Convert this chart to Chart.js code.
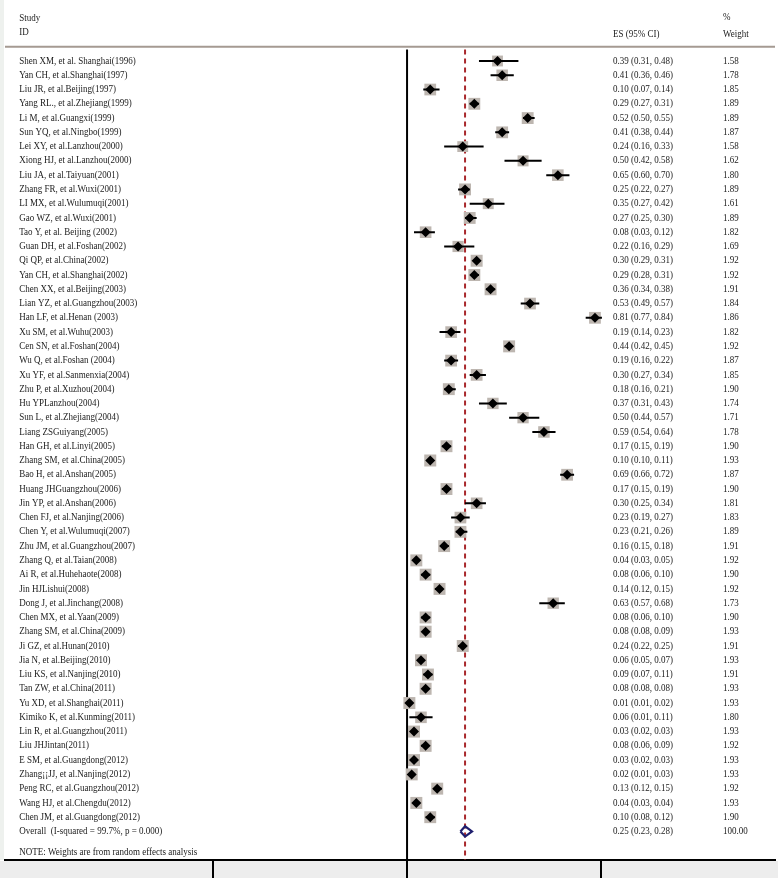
<!DOCTYPE html>
<html>
<head>
<meta charset="utf-8">
<title>Forest plot</title>
<script src="https://cdn.jsdelivr.net/npm/chart.js@4.4.1/dist/chart.umd.min.js"></script>
<style>
  html, body { margin: 0; padding: 0; background: #fff; overflow: hidden; }
  canvas { display: block; }
</style>
</head>
<body>
<canvas id="forest" width="778" height="878"></canvas>
<script>
/* ========= DATA ========= */

const studies = [
  "Shen XM, et al. Shanghai(1996)", "Yan CH, et al.Shanghai(1997)", "Liu JR, et al.Beijing(1997)",
  "Yang RL., et al.Zhejiang(1999)", "Li M, et al.Guangxi(1999)", "Sun YQ, et al.Ningbo(1999)",
  "Lei XY, et al.Lanzhou(2000)", "Xiong HJ, et al.Lanzhou(2000)", "Liu JA, et al.Taiyuan(2001)",
  "Zhang FR, et al.Wuxi(2001)", "LI MX, et al.Wulumuqi(2001)", "Gao WZ, et al.Wuxi(2001)",
  "Tao Y, et al. Beijing (2002)", "Guan DH, et al.Foshan(2002)", "Qi QP, et al.China(2002)",
  "Yan CH, et al.Shanghai(2002)", "Chen XX, et al.Beijing(2003)", "Lian YZ, et al.Guangzhou(2003)",
  "Han LF, et al.Henan (2003)", "Xu SM, et al.Wuhu(2003)", "Cen SN, et al.Foshan(2004)",
  "Wu Q, et al.Foshan (2004)", "Xu YF, et al.Sanmenxia(2004)", "Zhu P, et al.Xuzhou(2004)",
  "Hu YPLanzhou(2004)", "Sun L, et al.Zhejiang(2004)", "Liang ZSGuiyang(2005)",
  "Han GH, et al.Linyi(2005)", "Zhang SM, et al.China(2005)", "Bao H, et al.Anshan(2005)",
  "Huang JHGuangzhou(2006)", "Jin YP, et al.Anshan(2006)", "Chen FJ, et al.Nanjing(2006)",
  "Chen Y, et al.Wulumuqi(2007)", "Zhu JM, et al.Guangzhou(2007)", "Zhang Q, et al.Taian(2008)",
  "Ai R, et al.Huhehaote(2008)", "Jin HJLishui(2008)", "Dong J, et al.Jinchang(2008)",
  "Chen MX, et al.Yaan(2009)", "Zhang SM, et al.China(2009)", "Ji GZ, et al.Hunan(2010)",
  "Jia N, et al.Beijing(2010)", "Liu KS, et al.Nanjing(2010)", "Tan ZW, et al.China(2011)",
  "Yu XD, et al.Shanghai(2011)", "Kimiko K, et al.Kunming(2011)", "Lin R, et al.Guangzhou(2011)",
  "Liu JHJintan(2011)", "E SM, et al.Guangdong(2012)", "Zhang¡¡JJ, et al.Nanjing(2012)",
  "Peng RC, et al.Guangzhou(2012)", "Wang HJ, et al.Chengdu(2012)", "Chen JM, et al.Guangdong(2012)"
];

const es = [
  0.39, 0.41, 0.10, 0.29, 0.52, 0.41, 0.24, 0.50, 0.65, 0.25,
  0.35, 0.27, 0.08, 0.22, 0.30, 0.29, 0.36, 0.53, 0.81, 0.19,
  0.44, 0.19, 0.30, 0.18, 0.37, 0.50, 0.59, 0.17, 0.10, 0.69,
  0.17, 0.30, 0.23, 0.23, 0.16, 0.04, 0.08, 0.14, 0.63, 0.08,
  0.08, 0.24, 0.06, 0.09, 0.08, 0.01, 0.06, 0.03, 0.08, 0.03,
  0.02, 0.13, 0.04, 0.10
];

const ciLow = [
  0.31, 0.36, 0.07, 0.27, 0.50, 0.38, 0.16, 0.42, 0.60, 0.22,
  0.27, 0.25, 0.03, 0.16, 0.29, 0.28, 0.34, 0.49, 0.77, 0.14,
  0.42, 0.16, 0.27, 0.16, 0.31, 0.44, 0.54, 0.15, 0.10, 0.66,
  0.15, 0.25, 0.19, 0.21, 0.15, 0.03, 0.06, 0.12, 0.57, 0.06,
  0.08, 0.22, 0.05, 0.07, 0.08, 0.01, 0.01, 0.02, 0.06, 0.02,
  0.01, 0.12, 0.03, 0.08
];

const ciHigh = [
  0.48, 0.46, 0.14, 0.31, 0.55, 0.44, 0.33, 0.58, 0.70, 0.27,
  0.42, 0.30, 0.12, 0.29, 0.31, 0.31, 0.38, 0.57, 0.84, 0.23,
  0.45, 0.22, 0.34, 0.21, 0.43, 0.57, 0.64, 0.19, 0.11, 0.72,
  0.19, 0.34, 0.27, 0.26, 0.18, 0.05, 0.10, 0.15, 0.68, 0.10,
  0.09, 0.25, 0.07, 0.11, 0.08, 0.02, 0.11, 0.03, 0.09, 0.03,
  0.03, 0.15, 0.04, 0.12
];

const weights = [
  1.58, 1.78, 1.85, 1.89, 1.89, 1.87, 1.58, 1.62, 1.80, 1.89,
  1.61, 1.89, 1.82, 1.69, 1.92, 1.92, 1.91, 1.84, 1.86, 1.82,
  1.92, 1.87, 1.85, 1.90, 1.74, 1.71, 1.78, 1.90, 1.93, 1.87,
  1.90, 1.81, 1.83, 1.89, 1.91, 1.92, 1.90, 1.92, 1.73, 1.90,
  1.93, 1.91, 1.93, 1.91, 1.93, 1.93, 1.80, 1.93, 1.92, 1.93,
  1.93, 1.92, 1.93, 1.90
];

const overallLabel = "Overall  (I-squared = 99.7%, p = 0.000)";
const overallES = 0.25;
const overallLow = 0.23;
const overallHigh = 0.28;
const overallWeight = 100.00;

const axisTicks = [-0.836, 0, 0.836];
const noteText = "NOTE: Weights are from random effects analysis";

/* ========= LAYOUT ========= */

const X_MIN = -1.733, X_MAX = 1.586;      // whole graph width in ES units
const NAME_X = -1.672, ES_X = 0.888, WT_X = 1.362;
const OVERALL_ROW = studies.length + 1;
const AXIS_ROW = OVERALL_ROW + 2;
const FONT = "10px 'Liberation Serif', 'Times New Roman', serif";
const TEXT_SQUEEZE = 0.9;   // the source text is a little narrow

const fmt = v => v.toFixed(2);

/* ========= DATASETS ========= */

const rows = studies.map((_, i) => i + 1);

const ciSegments = [];
es.forEach((_, i) => {
  ciSegments.push({ x: ciLow[i], y: rows[i] });
  ciSegments.push({ x: ciHigh[i], y: rows[i] });
  ciSegments.push({ x: null, y: null });
});

const overallDiamond = [
  { x: overallLow, y: OVERALL_ROW },
  { x: overallES, y: OVERALL_ROW - 0.36 },
  { x: overallHigh, y: OVERALL_ROW },
  { x: overallES, y: OVERALL_ROW + 0.36 },
  { x: overallLow, y: OVERALL_ROW }
];

/* ========= PLUGINS ========= */

const paperPlugin = {
  id: "paper",
  beforeDraw(chart) {
    const { ctx, chartArea } = chart;
    ctx.save();
    ctx.fillStyle = "#ffffff";
    ctx.fillRect(0, 0, chart.width, chart.height);
    ctx.fillStyle = "#ededed";
    ctx.fillRect(0, chartArea.bottom + 1, chart.width, chart.height - chartArea.bottom);
    ctx.fillStyle = "#eef1ee";
    ctx.fillRect(0, 0, 4, chartArea.bottom);
    ctx.restore();
  }
};

const textPlugin = {
  id: "textColumns",
  afterDatasetsDraw(chart) {
    const { ctx, scales: { x, y } } = chart;
    const put = (txt, dx, row) => {
      ctx.save();
      ctx.translate(x.getPixelForValue(dx), y.getPixelForValue(row));
      ctx.scale(TEXT_SQUEEZE, 1);
      ctx.fillText(txt, 0, 0);
      ctx.restore();
    };

    ctx.save();
    ctx.font = FONT;
    ctx.fillStyle = "#1b1b1b";
    ctx.textBaseline = "middle";
    ctx.textAlign = "left";

    put("Study", NAME_X, -2);
    put("ID", NAME_X, -1);
    put("ES (95% CI)", ES_X, -0.9);
    put("%", WT_X, -2.05);
    put("Weight", WT_X, -0.9);

    studies.forEach((name, i) => {
      put(name, NAME_X, rows[i]);
      put(`${fmt(es[i])} (${fmt(ciLow[i])}, ${fmt(ciHigh[i])})`, ES_X, rows[i]);
      put(fmt(weights[i]), WT_X, rows[i]);
    });

    put(overallLabel, NAME_X, OVERALL_ROW);
    put(`${fmt(overallES)} (${fmt(overallLow)}, ${fmt(overallHigh)})`, ES_X, OVERALL_ROW);
    put(fmt(overallWeight), WT_X, OVERALL_ROW);

    put(noteText, NAME_X, OVERALL_ROW + 1.5);
    ctx.restore();
  }
};

/* ========= CHART ========= */

new Chart(document.getElementById("forest"), {
  type: "scatter",
  data: {
    datasets: [
      {
        label: "overall line",
        data: [{ x: overallES, y: 0.2 }, { x: overallES, y: AXIS_ROW }],
        showLine: true,
        borderColor: "#a8282c",
        borderWidth: 2,
        borderDash: [5, 4],
        pointRadius: 0,
        order: 10
      },
      {
        label: "null line",
        data: [{ x: 0, y: 0.2 }, { x: 0, y: AXIS_ROW }],
        showLine: true,
        borderColor: "#000",
        borderWidth: 2,
        pointRadius: 0,
        order: 9
      },
      {
        label: "header rule",
        data: [{ x: X_MIN, y: 0 }, { x: X_MAX, y: 0 }],
        showLine: true,
        borderColor: "#a59a92",
        borderWidth: 2,
        pointRadius: 0,
        order: 9
      },
      {
        label: "weight boxes",
        data: es.map((v, i) => ({ x: v, y: rows[i] })),
        pointStyle: "rect",
        pointRadius: ctx => 6.1 * Math.sqrt(weights[ctx.dataIndex]),
        backgroundColor: "#bdb6b0",
        borderWidth: 0,
        order: 5
      },
      {
        label: "confidence intervals",
        data: ciSegments,
        showLine: true,
        spanGaps: false,
        borderColor: "#000",
        borderWidth: 2,
        pointRadius: 0,
        order: 4
      },
      {
        label: "estimates",
        data: es.map((v, i) => ({ x: v, y: rows[i] })),
        pointStyle: "rectRot",
        pointRadius: 5,
        backgroundColor: "#000",
        borderWidth: 0,
        order: 3
      },
      {
        label: "overall",
        data: overallDiamond,
        showLine: true,
        borderColor: "#1f1f6e",
        borderWidth: 2.2,
        pointRadius: 0,
        fill: false,
        order: 2
      }
    ]
  },
  options: {
    responsive: false,
    animation: false,
    events: [],
    layout: { autoPadding: false, padding: { left: 5, right: 3, top: 0, bottom: 0 } },
    plugins: {
      legend: { display: false },
      tooltip: { enabled: false }
    },
    scales: {
      x: {
        type: "linear",
        position: "bottom",
        min: X_MIN,
        max: X_MAX,
        afterBuildTicks: axis => { axis.ticks = axisTicks.map(v => ({ value: v })); },
        ticks: { display: false },
        grid: {
          drawOnChartArea: false,
          drawTicks: true,
          tickLength: 18,
          color: "#000",
          lineWidth: 2
        },
        border: { display: true, color: "#000", width: 2 }
      },
      y: {
        type: "linear",
        display: false,
        reverse: true,
        min: -3.275,
        max: AXIS_ROW
      }
    }
  },
  plugins: [paperPlugin, textPlugin]
});
</script>
</body>
</html>
